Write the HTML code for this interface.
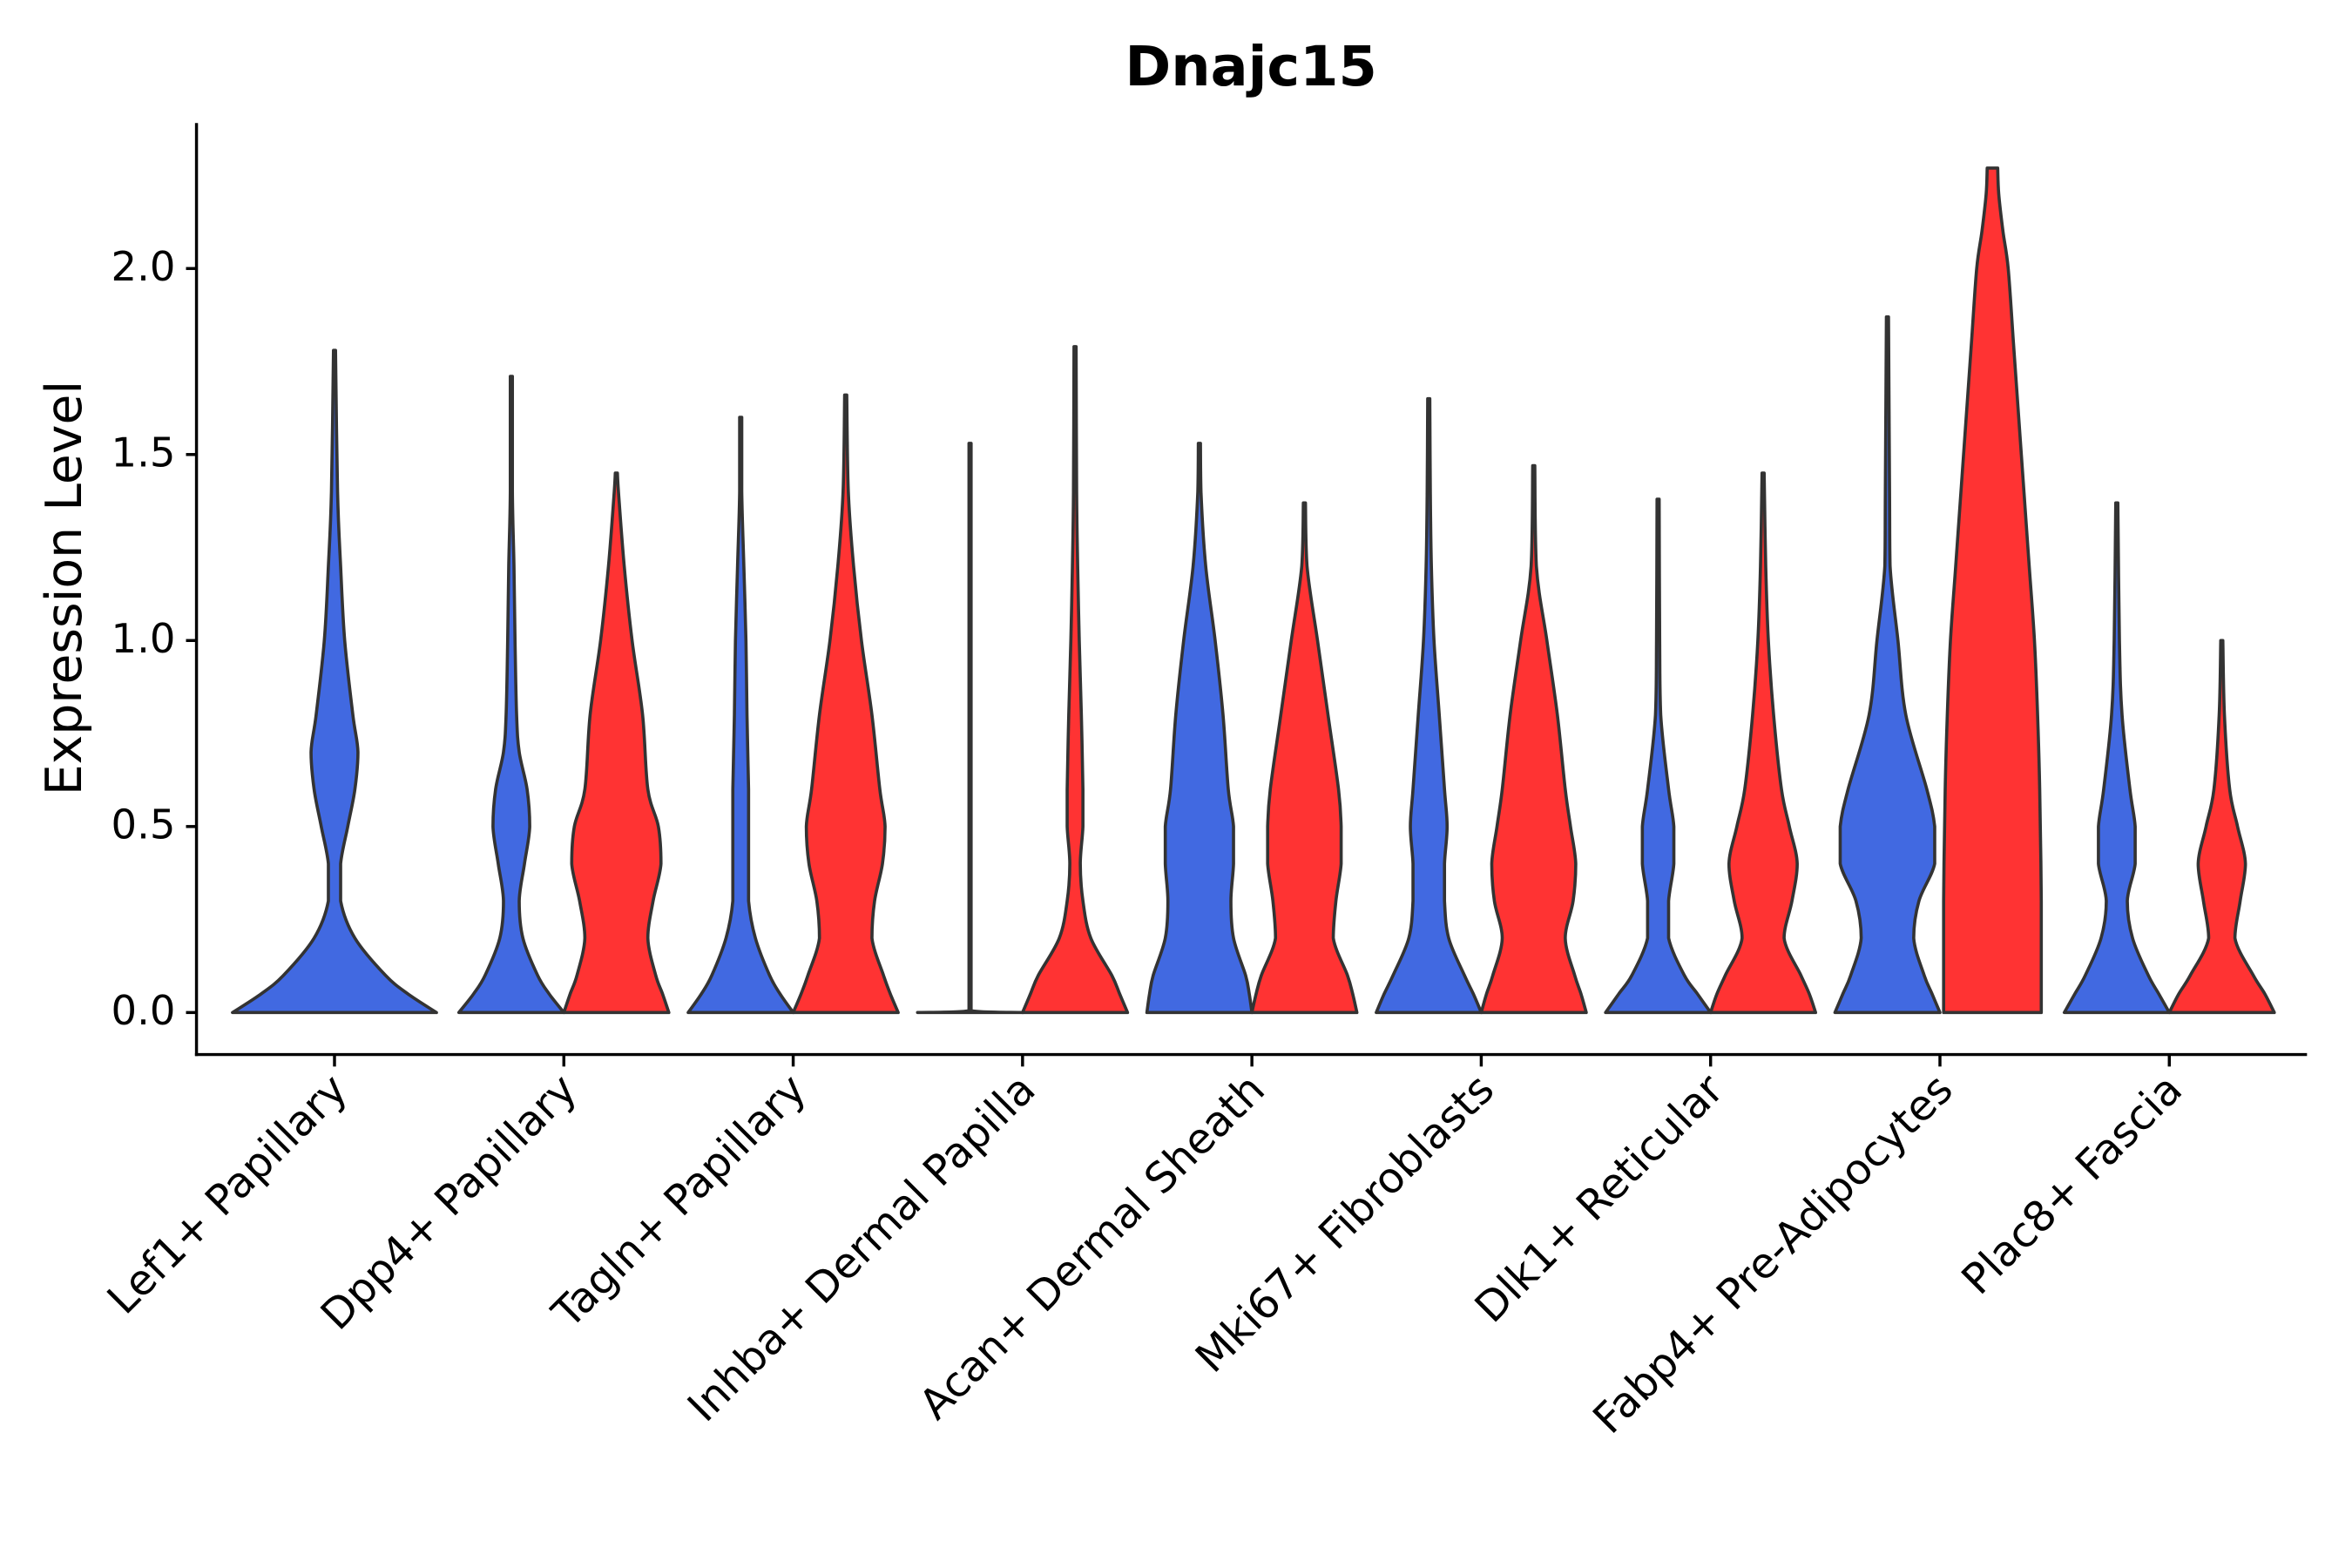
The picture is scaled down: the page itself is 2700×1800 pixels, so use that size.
<!DOCTYPE html>
<html><head><meta charset="utf-8"><style>
html,body{margin:0;padding:0;background:#fff;}
svg{display:block;font-family:"DejaVu Sans","Liberation Sans",sans-serif;}
</style></head><body>
<svg id="chart" width="2700" height="1800" viewBox="0 0 1568 1045.3" preserveAspectRatio="none" xmlns="http://www.w3.org/2000/svg">
<rect width="1568" height="1046" fill="#fff"/>
<text x="834" y="57" font-size="37" font-weight="bold" text-anchor="middle">Dnajc15</text>
<text transform="translate(54,392) rotate(-90)" font-size="33" text-anchor="middle">Expression Level</text>
<g id="plot"></g>
</svg>
<script>
const categories = ["Lef1+ Papillary","Dpp4+ Papillary","Tagln+ Papillary","Inhba+ Dermal Papilla","Acan+ Dermal Sheath","Mki67+ Fibroblasts","Dlk1+ Reticular","Fabp4+ Pre-Adipocytes","Plac8+ Fascia"];
const yTicks = [0, 0.5, 1.0, 1.5, 2.0];
const yTickLabels = ["0.0","0.5","1.0","1.5","2.0"];
const violinCat = [0,1,1,2,2,3,3,4,4,5,5,6,6,7,7,8,8];
const violinGroup = [-1,0,1,0,1,0,1,0,1,0,1,0,1,0,1,0,1];
const violinLevels = [
 [0,0.05,0.1,0.2,0.3,0.4,0.5,0.6,0.7,0.8,1.0,1.2,1.4,1.78],
 [0,0.05,0.1,0.2,0.3,0.4,0.5,0.6,0.7,0.8,1.0,1.2,1.4,1.71],
 [0,0.05,0.1,0.2,0.3,0.4,0.5,0.6,0.8,1.0,1.2,1.4,1.45],
 [0,0.05,0.1,0.2,0.3,0.4,0.5,0.6,0.8,1.0,1.2,1.4,1.6],
 [0,0.05,0.1,0.2,0.3,0.4,0.5,0.6,0.8,1.0,1.2,1.4,1.66],
 [0,0.005,0.5,1.0,1.53],
 [0,0.05,0.1,0.2,0.3,0.4,0.5,0.6,0.8,1.0,1.2,1.4,1.79],
 [0,0.05,0.1,0.2,0.3,0.4,0.5,0.6,0.8,1.0,1.2,1.4,1.53],
 [0,0.05,0.1,0.2,0.3,0.4,0.5,0.6,0.8,1.0,1.2,1.37],
 [0,0.05,0.1,0.2,0.3,0.4,0.5,0.6,0.8,1.0,1.2,1.4,1.65],
 [0,0.05,0.1,0.2,0.3,0.4,0.5,0.6,0.8,1.0,1.2,1.47],
 [0,0.05,0.1,0.2,0.3,0.4,0.5,0.6,0.8,1.0,1.38],
 [0,0.05,0.1,0.2,0.3,0.4,0.5,0.6,0.8,1.0,1.2,1.45],
 [0,0.05,0.1,0.2,0.3,0.4,0.5,0.6,0.8,1.0,1.2,1.4,1.87],
 [0,0.3,0.6,0.8,1.0,1.2,1.4,1.6,1.8,2.0,2.1,2.2,2.27],
 [0,0.05,0.1,0.2,0.3,0.4,0.5,0.6,0.8,1.0,1.37],
 [0,0.05,0.1,0.2,0.3,0.4,0.5,0.6,0.8,1.0]
];
const violinWidths = [
 [1,0.72,0.5,0.2,0.06,0.06,0.13,0.2,0.23,0.18,0.1,0.06,0.03,0.01],
 [1,0.72,0.5,0.22,0.15,0.25,0.35,0.3,0.15,0.1,0.07,0.05,0.02,0.02],
 [1,0.88,0.75,0.6,0.7,0.85,0.8,0.6,0.5,0.3,0.15,0.04,0.02],
 [1,0.75,0.55,0.28,0.15,0.15,0.15,0.15,0.12,0.1,0.06,0.02,0.02],
 [1,0.85,0.72,0.5,0.55,0.7,0.75,0.65,0.5,0.3,0.15,0.05,0.02],
 [1,0.02,0.02,0.02,0.02],
 [1,0.85,0.7,0.3,0.15,0.1,0.15,0.15,0.12,0.08,0.05,0.03,0.02],
 [1,0.95,0.88,0.65,0.6,0.65,0.65,0.55,0.45,0.3,0.12,0.03,0.02],
 [1,0.92,0.82,0.55,0.6,0.7,0.7,0.65,0.45,0.25,0.05,0.02],
 [1,0.85,0.68,0.38,0.3,0.3,0.35,0.3,0.2,0.1,0.05,0.03,0.02],
 [1,0.9,0.78,0.6,0.75,0.8,0.7,0.6,0.45,0.25,0.05,0.02],
 [1,0.75,0.5,0.2,0.2,0.3,0.3,0.2,0.05,0.03,0.02],
 [1,0.88,0.72,0.4,0.55,0.65,0.5,0.35,0.2,0.1,0.05,0.02],
 [1,0.85,0.7,0.5,0.6,0.9,0.9,0.75,0.35,0.2,0.05,0.04,0.02],
 [0.93,0.93,0.9,0.86,0.8,0.7,0.6,0.5,0.4,0.3,0.2,0.12,0.1],
 [1,0.8,0.6,0.3,0.2,0.35,0.35,0.25,0.1,0.05,0.02],
 [1,0.82,0.6,0.25,0.35,0.45,0.3,0.15,0.05,0.02]
];

const NS="http://www.w3.org/2000/svg";
const plot=document.getElementById('plot');
const yScale=v=>675-248*v;
const xCat=i=>223+152.9*i;
function mk(tag,attrs,parent){const e=document.createElementNS(NS,tag);for(const k in attrs)e.setAttribute(k,attrs[k]);(parent||plot).appendChild(e);return e;}
function smooth(pts){let d="";const cl=(x,a,b)=>{const lo=Math.min(a,b),hi=Math.max(a,b);return Math.max(lo,Math.min(hi,x));};
 for(let i=0;i<pts.length-1;i++){const p0=pts[Math.max(0,i-1)],p1=pts[i],p2=pts[i+1],p3=pts[Math.min(pts.length-1,i+2)];
 let c1=[p1[0]+(p2[0]-p0[0])/6,p1[1]+(p2[1]-p0[1])/6],c2=[p2[0]-(p3[0]-p1[0])/6,p2[1]-(p3[1]-p1[1])/6];
 c1[0]=cl(c1[0],p1[0],p2[0]);c2[0]=cl(c2[0],p1[0],p2[0]);
 c1[1]=cl(c1[1],p1[1],p2[1]);c2[1]=cl(c2[1],p1[1],p2[1]);
 d+=` C${c1[0].toFixed(2)},${c1[1].toFixed(2)} ${c2[0].toFixed(2)},${c2[1].toFixed(2)} ${p2[0].toFixed(2)},${p2[1].toFixed(2)}`;}return d;}
violinCat.forEach((ci,k)=>{
 const g=violinGroup[k];
 const cx=g<0?xCat(ci):xCat(ci)+(g===0?-35:35);
 const hw=g<0?68:35;
 const ys=violinLevels[k],ws=violinWidths[k];
 const right=ys.map((y,i)=>[cx+hw*ws[i],yScale(y)]);
 const left=ys.map((y,i)=>[cx-hw*ws[i],yScale(y)]).reverse();
 let d=`M${left[left.length-1][0]},${left[left.length-1][1]} L${right[0][0]},${right[0][1]}`+smooth(right)+` L${left[0][0]},${left[0][1]}`+smooth(left)+" Z";
 const p=mk('path',{d:d,fill:g===1?'#FF3333':'#4169E1',stroke:'#333','stroke-width':2.1,'stroke-linejoin':'round'});
 
 
});
const ya=mk('line',{x1:131,y1:82,x2:131,y2:704,stroke:'#000','stroke-width':2});


const xa=mk('line',{x1:130,y1:703,x2:1538,y2:703,stroke:'#000','stroke-width':2});


yTicks.forEach((v,i)=>{
 const t=mk('line',{x1:124,x2:131,y1:yScale(v),y2:yScale(v),stroke:'#000','stroke-width':2});
 
 
 const l=mk('text',{x:117,y:yScale(v)+8,'font-size':27,'text-anchor':'end'});
 l.textContent=yTickLabels[i];
 
 
});
categories.forEach((c,i)=>{
 const x=xCat(i);
 const t=mk('line',{x1:x,x2:x,y1:703,y2:711,stroke:'#000','stroke-width':2});
 
 
 const l=mk('text',{transform:`translate(${x+10},${728}) rotate(-45)`,'font-size':28,'text-anchor':'end'});
 l.textContent=c;
 
 
});
</script>
</body></html>
